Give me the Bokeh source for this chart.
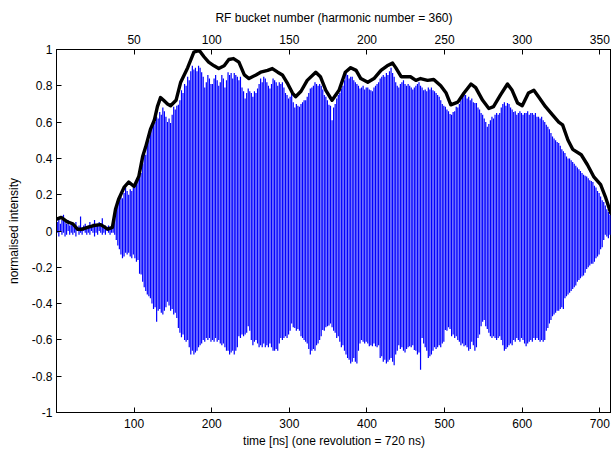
from bokeh.plotting import figure
from bokeh.models import Range1d, LinearAxis, FixedTicker
from bokeh.embed import file_html
from bokeh.resources import INLINE

# ---- data ----
# bucket spacing in ns (harmonic number 360 over 720 ns)
bucket_ns = 2.0

# per-bucket peak (upper) values, buckets 0..359
peaks = [
    0.05, 0.07, 0.04, 0.06, 0.09, 0.05, 0.04, 0.06, 0.03, 0.05,
    0.04, 0.03, 0.05, 0.02, 0.03, 0.08, 0.02, 0.03, 0.04, 0.02,
    0.03, 0.05, 0.02, 0.04, 0.06, 0.03, 0.04, 0.05, 0.03, 0.07,
    0.02, 0.03, 0.02, 0.03, 0.02, 0.03, 0.04, 0.08, 0.12, 0.16,
    0.17, 0.19, 0.18, 0.21, 0.24, 0.22, 0.20, 0.23, 0.22, 0.24,
    0.24, 0.27, 0.30, 0.29, 0.32, 0.37, 0.43, 0.42, 0.49, 0.50,
    0.54, 0.57, 0.61, 0.60, 0.63, 0.62, 0.655, 0.64, 0.68, 0.66,
    0.63, 0.60, 0.62, 0.595, 0.64, 0.685, 0.67, 0.69, 0.695, 0.72,
    0.775, 0.76, 0.81, 0.80, 0.85, 0.83, 0.88, 0.91, 0.89, 0.90,
    0.88, 0.91, 0.90, 0.875, 0.85, 0.79, 0.82, 0.86, 0.84, 0.81,
    0.81, 0.84, 0.86, 0.83, 0.80, 0.82, 0.86, 0.84, 0.79, 0.83,
    0.875, 0.86, 0.87, 0.84, 0.87, 0.86, 0.85, 0.83, 0.85, 0.79,
    0.77, 0.73, 0.76, 0.785, 0.77, 0.76, 0.74, 0.77, 0.76, 0.785,
    0.81, 0.84, 0.82, 0.85, 0.84, 0.82, 0.80, 0.785, 0.81, 0.84,
    0.83, 0.82, 0.80, 0.82, 0.81, 0.82, 0.79, 0.76, 0.75, 0.73,
    0.74, 0.76, 0.71, 0.68, 0.70, 0.69, 0.685, 0.70, 0.71, 0.72,
    0.72, 0.74, 0.76, 0.785, 0.79, 0.80, 0.82, 0.81, 0.80, 0.81,
    0.80, 0.78, 0.75, 0.74, 0.72, 0.695, 0.69, 0.61, 0.68, 0.70,
    0.73, 0.75, 0.76, 0.785, 0.80, 0.83, 0.87, 0.86, 0.84, 0.85,
    0.85, 0.83, 0.82, 0.81, 0.80, 0.785, 0.79, 0.80, 0.78, 0.79,
    0.79, 0.78, 0.775, 0.77, 0.79, 0.80, 0.81, 0.82, 0.84, 0.85,
    0.86, 0.85, 0.87, 0.86, 0.88, 0.90, 0.87, 0.85, 0.82, 0.80,
    0.79, 0.81, 0.82, 0.83, 0.81, 0.80, 0.81, 0.80, 0.79, 0.78,
    0.79, 0.80, 0.81, 0.82, 0.80, 0.79, 0.775, 0.78, 0.77, 0.79,
    0.78, 0.79, 0.775, 0.77, 0.76, 0.75, 0.74, 0.72, 0.70, 0.69,
    0.685, 0.67, 0.66, 0.645, 0.64, 0.655, 0.66, 0.685, 0.68, 0.70,
    0.72, 0.74, 0.765, 0.75, 0.73, 0.74, 0.72, 0.73, 0.71, 0.705,
    0.705, 0.68, 0.67, 0.65, 0.64, 0.62, 0.60, 0.575, 0.59, 0.61,
    0.63, 0.62, 0.64, 0.65, 0.64, 0.65, 0.68, 0.70, 0.71, 0.69,
    0.705, 0.70, 0.68, 0.67, 0.655, 0.66, 0.64, 0.65, 0.66, 0.65,
    0.64, 0.65, 0.65, 0.66, 0.64, 0.65, 0.65, 0.64, 0.65, 0.63,
    0.63, 0.62, 0.63, 0.61, 0.60, 0.585, 0.575, 0.56, 0.54, 0.52,
    0.51, 0.50, 0.49, 0.485, 0.47, 0.45, 0.44, 0.43, 0.41, 0.40,
    0.40, 0.39, 0.38, 0.37, 0.36, 0.35, 0.34, 0.33, 0.32, 0.31,
    0.305, 0.30, 0.29, 0.28, 0.275, 0.27, 0.25, 0.24, 0.22, 0.21,
    0.19, 0.17, 0.16, 0.14, 0.12, 0.105, 0.09, 0.07, 0.055, 0.04,
]

# per-bucket trough (lower) values, buckets 0..359
troughs = [
    -0.01, -0.03, 0.00, -0.02, -0.01, -0.03, -0.02, 0.00, -0.02, -0.01,
    -0.02, -0.01, -0.03, 0.00, -0.02, -0.01, -0.02, 0.00, -0.01, -0.02,
    -0.01, -0.02, 0.00, -0.01, -0.03, -0.01, -0.02, 0.00, -0.01, -0.02,
    -0.01, -0.02, 0.00, -0.01, -0.02, -0.01, -0.01, -0.02, -0.05, -0.08,
    -0.10, -0.13, -0.15, -0.14, -0.12, -0.13, -0.12, -0.14, -0.15, -0.13,
    -0.15, -0.17, -0.16, -0.235, -0.24, -0.28, -0.31, -0.33, -0.35, -0.36,
    -0.37, -0.40, -0.43, -0.42, -0.50, -0.44, -0.43, -0.45, -0.46, -0.44,
    -0.42, -0.39, -0.41, -0.44, -0.43, -0.46, -0.45, -0.48, -0.535, -0.56,
    -0.585, -0.57, -0.60, -0.61, -0.60, -0.64, -0.68, -0.66, -0.68, -0.67,
    -0.66, -0.64, -0.63, -0.62, -0.60, -0.61, -0.59, -0.60, -0.59, -0.61,
    -0.60, -0.61, -0.59, -0.61, -0.60, -0.62, -0.63, -0.62, -0.64, -0.66,
    -0.66, -0.68, -0.67, -0.66, -0.68, -0.66, -0.64, -0.58, -0.59, -0.57,
    -0.58, -0.57, -0.56, -0.525, -0.55, -0.60, -0.63, -0.61, -0.60, -0.62,
    -0.64, -0.63, -0.64, -0.62, -0.64, -0.63, -0.64, -0.62, -0.64, -0.66,
    -0.66, -0.65, -0.66, -0.62, -0.59, -0.60, -0.59, -0.58, -0.59, -0.57,
    -0.55, -0.51, -0.53, -0.535, -0.55, -0.54, -0.55, -0.58, -0.59, -0.60,
    -0.61, -0.62, -0.65, -0.68, -0.66, -0.65, -0.66, -0.63, -0.62, -0.60,
    -0.58, -0.545, -0.55, -0.53, -0.525, -0.52, -0.51, -0.53, -0.55, -0.56,
    -0.59, -0.58, -0.61, -0.64, -0.63, -0.66, -0.68, -0.70, -0.71, -0.73,
    -0.72, -0.70, -0.72, -0.73, -0.66, -0.62, -0.60, -0.61, -0.62, -0.61,
    -0.62, -0.635, -0.63, -0.635, -0.62, -0.635, -0.64, -0.63, -0.70, -0.69,
    -0.72, -0.71, -0.73, -0.72, -0.71, -0.70, -0.72, -0.74, -0.68, -0.66,
    -0.63, -0.65, -0.64, -0.66, -0.67, -0.65, -0.64, -0.635, -0.64, -0.63,
    -0.655, -0.66, -0.68, -0.67, -0.765, -0.59, -0.62, -0.64, -0.66, -0.70,
    -0.69, -0.68, -0.66, -0.64, -0.65, -0.64, -0.63, -0.64, -0.62, -0.61,
    -0.545, -0.55, -0.53, -0.54, -0.58, -0.57, -0.59, -0.58, -0.60, -0.61,
    -0.63, -0.62, -0.635, -0.63, -0.64, -0.66, -0.65, -0.61, -0.63, -0.66,
    -0.64, -0.59, -0.57, -0.525, -0.50, -0.49, -0.525, -0.54, -0.56, -0.58,
    -0.59, -0.58, -0.59, -0.60, -0.59, -0.58, -0.60, -0.63, -0.66, -0.65,
    -0.64, -0.63, -0.62, -0.63, -0.60, -0.61, -0.59, -0.60, -0.61, -0.59,
    -0.60, -0.62, -0.635, -0.62, -0.61, -0.60, -0.61, -0.59, -0.60, -0.59,
    -0.60, -0.61, -0.60, -0.61, -0.60, -0.55, -0.535, -0.51, -0.49, -0.47,
    -0.46, -0.45, -0.44, -0.44, -0.43, -0.42, -0.43, -0.37, -0.36, -0.35,
    -0.34, -0.33, -0.32, -0.31, -0.30, -0.28, -0.27, -0.26, -0.25, -0.245,
    -0.23, -0.21, -0.20, -0.19, -0.18, -0.18, -0.17, -0.15, -0.14, -0.13,
    -0.10, -0.09, -0.05, -0.02, -0.03, -0.04, -0.02, -0.03, -0.01, -0.02,
]

# black envelope line (time in ns, value)
env_t = [0, 6, 14, 21, 27, 33, 40, 48, 57, 66, 72, 76, 80, 87, 93, 100, 106,
         111, 115, 121, 126, 130, 134, 138, 143, 147, 154, 160, 169, 177, 184,
         190, 196, 203, 209, 216, 222, 228, 235, 242, 248, 257, 263, 272, 278,
         285, 291, 298, 304, 308, 315, 323, 334, 340, 347, 355, 364, 372, 379,
         386, 392, 401, 409, 418, 426, 433, 437, 444, 450, 456, 463, 469, 478,
         486, 495, 502, 508, 517, 525, 534, 540, 549, 557, 563, 572, 581, 587,
         594, 600, 608, 615, 621, 630, 639, 647, 652, 659, 665, 676, 684, 692,
         701, 707, 714, 720]
env_v = [0.065, 0.075, 0.05, 0.04, 0.01, 0.01, 0.02, 0.03, 0.035, 0.01, 0.02,
         0.12, 0.175, 0.24, 0.27, 0.245, 0.30, 0.41, 0.465, 0.56, 0.61, 0.685,
         0.735, 0.72, 0.70, 0.69, 0.72, 0.82, 0.90, 0.985, 0.995, 0.96, 0.93,
         0.91, 0.895, 0.91, 0.945, 0.95, 0.93, 0.86, 0.84, 0.86, 0.875, 0.885,
         0.895, 0.875, 0.86, 0.81, 0.76, 0.74, 0.77, 0.83, 0.875, 0.85, 0.775,
         0.72, 0.775, 0.875, 0.90, 0.885, 0.84, 0.82, 0.84, 0.885, 0.91, 0.925,
         0.90, 0.85, 0.85, 0.85, 0.83, 0.84, 0.83, 0.835, 0.80, 0.76, 0.695,
         0.71, 0.76, 0.81, 0.79, 0.72, 0.675, 0.685, 0.75, 0.81, 0.775, 0.705,
         0.69, 0.76, 0.775, 0.74, 0.685, 0.64, 0.60, 0.585, 0.50, 0.45, 0.42,
         0.365, 0.30, 0.255, 0.19, 0.10, 0.07]

x_ticks = [100, 200, 300, 400, 500, 600, 700]
top_ticks = [50, 100, 150, 200, 250, 300, 350]
y_ticks = [-1, -0.8, -0.6, -0.4, -0.2, 0, 0.2, 0.4, 0.6, 0.8, 1]
y_labels = ["-1", "-0.8", "-0.6", "-0.4", "-0.2", "0", "0.2", "0.4", "0.6", "0.8", "1"]

# ---- bucket positions (one vertical stroke per bucket) ----
bucket_t = [k * bucket_ns + bucket_ns / 2 for k in range(len(peaks))]

X_END = 715.0
FONT = "Liberation Sans"

p = figure(width=611, height=450, output_backend="svg", toolbar_location=None,
           x_range=Range1d(0, X_END), y_range=Range1d(-1, 1),
           min_border_left=56, min_border_top=49, min_border_bottom=35,
           min_border_right=0, x_axis_label="time [ns] (one revolution = 720 ns)",
           y_axis_label="normalised intensity")
p.extra_x_ranges = {"bucket": Range1d(0, X_END / bucket_ns)}

p.segment(x0=bucket_t, y0=troughs, x1=bucket_t, y1=peaks,
          line_color="#0000ff", line_width=1.2)
p.line(env_t, env_v, line_color="black", line_width=3.4, line_join="round")

p.xgrid.visible = False
p.ygrid.visible = False
p.outline_line_color = "black"
p.outline_line_width = 1
p.background_fill_color = "white"
p.border_fill_color = "white"

def style(ax):
    ax.axis_line_color = "black"
    ax.axis_line_width = 1
    ax.major_tick_in = 5
    ax.major_tick_out = 0
    ax.minor_tick_in = 0
    ax.minor_tick_out = 0
    ax.major_tick_line_color = "black"
    ax.major_label_text_font = FONT
    ax.major_label_text_font_size = "12px"
    ax.major_label_text_color = "black"
    ax.axis_label_text_font = FONT
    ax.axis_label_text_font_size = "12px"
    ax.axis_label_text_font_style = "normal"
    ax.axis_label_text_color = "black"
    ax.major_label_standoff = 4

xa = p.xaxis[0]
style(xa)
xa.ticker = FixedTicker(ticks=x_ticks)
xa.major_label_standoff = 6
xa.axis_label_standoff = 3

ya = p.yaxis[0]
style(ya)
ya.ticker = FixedTicker(ticks=y_ticks)
ya.major_label_overrides = {t: s for t, s in zip(y_ticks, y_labels)}
ya.axis_label_standoff = 8

top = LinearAxis(x_range_name="bucket", axis_label="RF bucket number (harmonic number = 360)")
style(top)
top.ticker = FixedTicker(ticks=top_ticks)
top.major_label_standoff = 6
top.axis_label_standoff = 7
p.add_layout(top, "above")

open("out.html", "w").write(file_html(p, INLINE))
